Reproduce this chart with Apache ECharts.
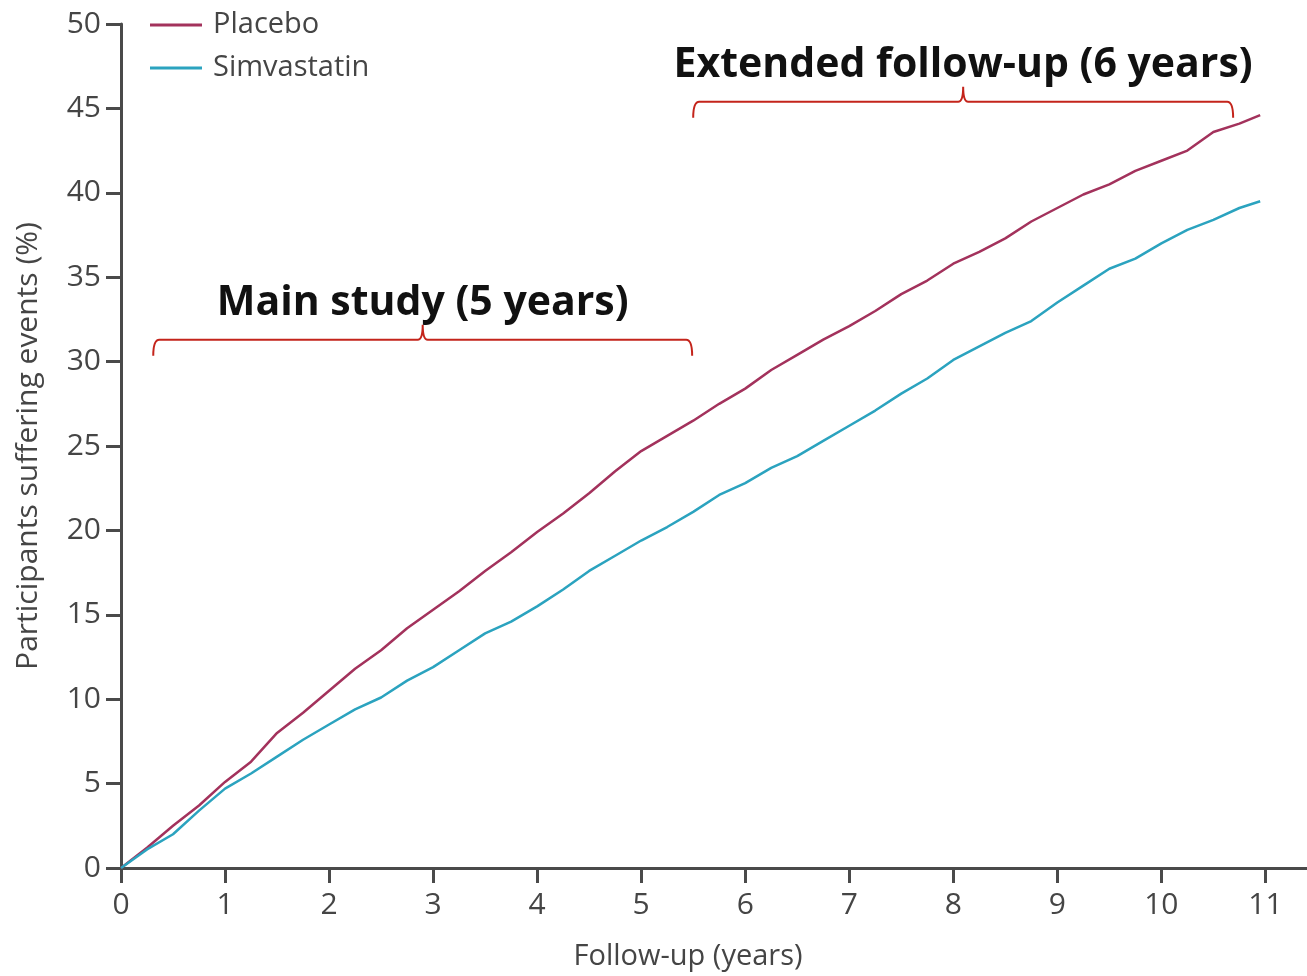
<!DOCTYPE html>
<html><head><meta charset="utf-8">
<script src="https://cdn.jsdelivr.net/npm/echarts@6/dist/echarts.min.js"></script>
<style>html,body{margin:0;padding:0;background:#fff}#c{width:1307px;height:976px}</style>
</head><body><div id="c"></div>
<script>
const years = [0,0.25,0.5,0.75,1,1.25,1.5,1.75,2,2.25,2.5,2.75,3,3.25,3.5,3.75,4,4.25,4.5,4.75,5,5.25,5.5,5.75,6,6.25,6.5,6.75,7,7.25,7.5,7.75,8,8.25,8.5,8.75,9,9.25,9.5,9.75,10,10.25,10.5,10.75,10.95];
const placebo = [0,1.2,2.5,3.7,5.1,6.3,8.0,9.2,10.5,11.8,12.9,14.2,15.3,16.4,17.6,18.7,19.9,21.0,22.2,23.5,24.7,25.6,26.5,27.5,28.4,29.5,30.4,31.3,32.1,33.0,34.0,34.8,35.8,36.5,37.3,38.3,39.1,39.9,40.5,41.3,41.9,42.5,43.6,44.1,44.6];
const simvastatin = [0,1.1,2.0,3.4,4.7,5.6,6.6,7.6,8.5,9.4,10.1,11.1,11.9,12.9,13.9,14.6,15.5,16.5,17.6,18.5,19.4,20.2,21.1,22.1,22.8,23.7,24.4,25.3,26.2,27.1,28.1,29.0,30.1,30.9,31.7,32.4,33.5,34.5,35.5,36.1,37.0,37.8,38.4,39.1,39.5];
const xTicks = [0,1,2,3,4,5,6,7,8,9,10,11];
const yTicks = [0,5,10,15,20,25,30,35,40,45,50];
const seriesNames = ['Placebo','Simvastatin'];
const bracketSpans = [[0.31,5.49,31.3],[5.5,10.69,45.4]];
const bracketLabels = ['Main study (5 years)','Extended follow-up (6 years)'];

const FONT = '"Open Sans", "DejaVu Sans", sans-serif';
const TXT = '#454545';
const AX = '#4a4a4a';

const chart = echarts.init(document.getElementById('c'));
chart.setOption({
  backgroundColor:'#fff',
  animation:false,
  grid:{left:121,right:0,top:24,bottom:107,containLabel:false},
  legend:{
    data:seriesNames, orient:'vertical', left:150, top:10, itemGap:13,
    icon:'rect', itemWidth:52, itemHeight:3, padding:0,
    textStyle:{fontFamily:FONT,fontSize:29,color:TXT,lineHeight:30,padding:[0,0,0,6]}
  },
  xAxis:{
    type:'value', min:0, max:11.4, interval:1,
    name:'Follow-up (years)', nameLocation:'middle', nameGap:74,
    nameTextStyle:{fontFamily:FONT,fontSize:29,color:TXT,padding:[0,52,0,0]},
    axisLine:{show:true,lineStyle:{color:AX,width:3}},
    axisTick:{show:true,length:15,lineStyle:{color:AX,width:3},customValues:xTicks},
    axisLabel:{fontFamily:FONT,fontSize:30,color:TXT,margin:22,customValues:xTicks},
    splitLine:{show:false}
  },
  yAxis:{
    type:'value', min:0, max:50, interval:5,
    name:'Participants suffering events (%)', nameLocation:'middle', nameGap:78,
    nameTextStyle:{fontFamily:FONT,fontSize:30,color:TXT},
    axisLine:{show:true,lineStyle:{color:AX,width:3}},
    axisTick:{show:true,length:15,lineStyle:{color:AX,width:3},customValues:yTicks},
    axisLabel:{fontFamily:FONT,fontSize:30,color:TXT,margin:20,customValues:yTicks},
    splitLine:{show:false}
  },
  series:[
    {name:seriesNames[0],type:'line',showSymbol:false,symbol:'none',
     data:years.map((x,i)=>[x,placebo[i]]),
     lineStyle:{color:'#a3325c',width:2.5},itemStyle:{color:'#a3325c'}},
    {name:seriesNames[1],type:'line',showSymbol:false,symbol:'none',
     data:years.map((x,i)=>[x,simvastatin[i]]),
     lineStyle:{color:'#2ba3bf',width:2.5},itemStyle:{color:'#2ba3bf'}},
    {type:'custom',silent:true,clip:false,
     data:bracketSpans,
     encode:{x:[0,1],y:2},
     renderItem:function(params,api){
       const p0 = api.coord([api.value(0),api.value(2)]);
       const p1 = api.coord([api.value(1),api.value(2)]);
       const y = p0[1], xa = p0[0], xb = p1[0], xc = (xa+xb)/2;
       const d = 'M'+xa+','+(y+16)+' Q'+xa+','+y+' '+(xa+6)+','+y+
                 ' L'+(xc-5)+','+y+' Q'+xc+','+y+' '+xc+','+(y-15)+
                 ' Q'+xc+','+y+' '+(xc+5)+','+y+
                 ' L'+(xb-6)+','+y+' Q'+xb+','+y+' '+xb+','+(y+16);
       return {type:'group',children:[
         {type:'path',shape:{pathData:d},style:{fill:null,stroke:'#c4241b',lineWidth:2}},
         {type:'text',x:xc,y:y-36,style:{text:bracketLabels[params.dataIndex],
           align:'center',verticalAlign:'middle',
           font:'700 41px "Open Sans", "DejaVu Sans", sans-serif',fill:'#111'}}
       ]};
     }}
  ]
});
</script>
</body></html>
